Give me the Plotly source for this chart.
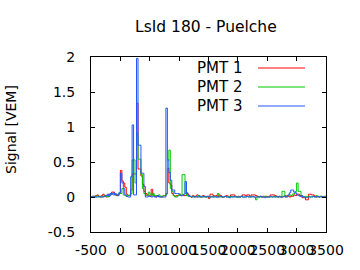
import plotly.graph_objects as go

title_text = "LsId 180 - Puelche"
y_label = "Signal [VEM]"
series_names = ["PMT 1", "PMT 2", "PMT 3"]
series_colors = ["#ff0000", "#00c800", "#2255ff"]

bin_start = -500
bin_width = 25

pmt1 = [
    0.00, 0.01, 0.00, 0.02, 0.03, 0.01, 0.00, 0.02, 0.04, 0.01,
    0.00, 0.02, 0.04, 0.03, 0.07, 0.07, 0.05, 0.02, 0.03, 0.05,
    0.38, 0.23, 0.20, 0.14, 0.04, 0.02, 0.02, 0.10, 0.33, 0.33,
    0.33, 1.34, 0.40, 0.40, 0.30, 0.18, 0.08, 0.05, 0.03, 0.02,
    0.01, 0.11, 0.03, 0.01, 0.00, 0.02, 0.01, 0.00, 0.01, 0.02,
    0.02, 0.05, 0.41, 0.20, 0.17, 0.05, 0.02, 0.01, 0.02, 0.02,
    0.04, 0.02, 0.03, 0.02, 0.02, 0.06, 0.03, 0.01, 0.00, 0.02,
    0.01, 0.00, 0.03, 0.02, 0.00, 0.01, 0.02, 0.01, 0.00, 0.01,
    -0.02, 0.04, 0.04, 0.02, 0.01, 0.02, 0.00, 0.03, 0.02, 0.00,
    0.00, 0.01, 0.02, 0.01, 0.00, 0.03, 0.03, 0.03, 0.01, 0.00,
    0.01, 0.00, 0.01, 0.03, 0.03, 0.02, 0.03, 0.03, 0.01, 0.03,
    0.03, 0.03, 0.02, 0.01, 0.00, 0.01, 0.00, 0.01, 0.00, 0.01,
    0.00, 0.01, 0.03, 0.03, 0.03, 0.02, 0.01, 0.00, 0.01, 0.00,
    0.00, 0.01, 0.02, 0.00, 0.01, 0.00, 0.01, 0.01, 0.03, 0.02,
    0.04, 0.04, 0.02, 0.00, -0.01, -0.01, -0.04, -0.04, 0.04, 0.04,
    0.03, 0.03, 0.01, 0.00, 0.01, 0.00, 0.01, 0.00, 0.00, 0.01,
]

pmt2 = [
    0.00, 0.01, 0.01, 0.00, 0.02, 0.00, 0.01, 0.00, 0.01, 0.02,
    0.01, 0.00, 0.02, 0.04, 0.05, 0.03, 0.05, 0.03, 0.02, 0.06,
    0.05, 0.12, 0.03, 0.02, 0.01, 0.02, 0.03, 0.05, 0.53, 0.53,
    0.20, 0.91, 0.54, 0.54, 0.32, 0.12, 0.05, 0.02, 0.02, 0.07,
    0.04, 0.02, 0.05, 0.02, 0.02, 0.01, 0.03, 0.01, 0.00, 0.02,
    0.02, 0.04, 0.53, 0.67, 0.12, 0.08, 0.02, 0.00, 0.00, 0.02,
    0.04, 0.02, 0.32, 0.32, 0.05, 0.02, 0.01, 0.01, 0.00, 0.01,
    0.00, 0.01, 0.00, 0.02, 0.00, 0.00, 0.01, 0.00, 0.00, 0.01,
    0.00, 0.00, 0.01, 0.00, 0.00, 0.00, 0.05, 0.01, 0.00, 0.00,
    0.00, 0.01, 0.00, 0.00, 0.00, 0.01, 0.00, 0.00, 0.01, 0.00,
    0.00, 0.00, 0.01, 0.00, 0.00, 0.00, 0.01, 0.00, 0.00, 0.01,
    0.00, 0.00, -0.04, 0.01, 0.00, 0.00, 0.00, 0.00, 0.01, 0.00,
    0.00, 0.00, 0.00, 0.00, 0.01, 0.00, 0.00, 0.00, 0.01, 0.00,
    0.08, 0.08, 0.00, 0.01, 0.02, 0.03, 0.02, 0.04, 0.05, 0.08,
    0.20, 0.08, 0.08, 0.02, 0.01, 0.00, 0.01, 0.00, 0.01, 0.00,
    0.00, 0.01, 0.00, 0.02, 0.00, 0.00, 0.01, 0.00, 0.00, 0.01,
]

pmt3 = [
    0.00, 0.00, 0.01, 0.00, 0.00, 0.01, 0.00, 0.00, 0.00, 0.01,
    0.02, 0.04, 0.01, 0.05, 0.04, 0.06, 0.03, 0.04, 0.02, 0.06,
    0.34, 0.20, 0.12, 0.03, 0.01, 0.00, 0.00, 0.29, 1.03, 0.03,
    0.03, 1.98, 0.74, 0.74, 0.34, 0.34, 0.15, 0.00, 0.00, 0.01,
    0.01, 0.00, 0.01, 0.00, 0.00, 0.02, 0.00, 0.00, 0.00, 0.00,
    0.00, 1.27, 0.53, 0.35, 0.24, 0.10, 0.10, 0.05, 0.05, 0.05,
    0.03, 0.02, 0.02, 0.04, 0.22, 0.05, 0.02, 0.01, 0.00, 0.00,
    0.00, 0.01, 0.00, 0.00, 0.01, 0.00, 0.00, 0.01, 0.00, 0.00,
    0.01, 0.00, 0.00, 0.00, 0.01, 0.00, 0.00, 0.00, 0.01, 0.00,
    0.00, 0.01, 0.00, 0.00, -0.01, 0.00, 0.00, 0.01, 0.00, 0.00,
    0.00, 0.00, 0.01, 0.00, 0.00, 0.00, 0.01, 0.00, 0.00, 0.00,
    0.01, 0.00, 0.00, 0.00, 0.00, 0.01, 0.00, 0.00, -0.01, 0.00,
    0.00, 0.00, 0.01, 0.00, 0.00, 0.00, 0.01, 0.00, 0.00, 0.00,
    0.00, 0.01, 0.00, 0.01, 0.03, 0.06, 0.10, 0.10, 0.07, 0.06,
    0.03, 0.02, 0.01, 0.02, 0.00, 0.00, -0.01, 0.00, 0.00, 0.00,
    0.00, 0.01, 0.00, 0.00, 0.01, 0.00, 0.00, 0.01, 0.00, 0.00,
]

x_ticks = [-500, 0, 500, 1000, 1500, 2000, 2500, 3000, 3500]
x_tick_labels = ["-500", "0", "500", "1000", "1500", "2000", "2500", "3000", "3500"]
y_ticks = [-0.5, 0, 0.5, 1, 1.5, 2]
y_tick_labels = ["-0.5", "0", "0.5", "1", "1.5", "2"]

FONT = "DejaVu Sans"
W, H = 360, 270
L, R, T, B = 91, 34, 57, 38
PW, PH = W - L - R, H - T - B


def px_x(px):
    return (px - L) / PW


def px_y(py):
    return (H - B - py) / PH


fig = go.Figure()
for name, color, vals in zip(series_names, series_colors, [pmt1, pmt2, pmt3]):
    xs = [bin_start + bin_width * i for i in range(len(vals) + 1)]
    ys = vals + [vals[-1]]
    fig.add_trace(go.Scatter(
        x=xs, y=ys, mode="lines", name=name,
        line=dict(color=color, width=1, shape="hv"),
        showlegend=False, hoverinfo="skip",
    ))

# gnuplot-style key: text right-justified, sample line to the right
for i, (name, color) in enumerate(zip(series_names, series_colors)):
    row_y = 68 + 19 * i
    fig.add_annotation(
        x=px_x(244), y=px_y(row_y), xref="paper", yref="paper", text=name,
        showarrow=False, xanchor="right", yanchor="middle",
        font=dict(family=FONT, size=15, color="black"),
    )
    fig.add_shape(type="line", xref="paper", yref="paper",
                  x0=px_x(258), x1=px_x(305), y0=px_y(row_y), y1=px_y(row_y),
                  line=dict(color=color, width=1))

axis_common = dict(
    showline=True, linecolor="black", linewidth=1, mirror="allticks",
    ticks="inside", ticklen=4, tickcolor="black", tickwidth=1,
    showgrid=False, zeroline=False,
    tickfont=dict(family=FONT, size=14, color="black"),
)

fig.update_layout(
    width=W, height=H,
    margin=dict(l=L, r=R, t=T, b=B, pad=0),
    paper_bgcolor="white", plot_bgcolor="white",
    xaxis=dict(range=[-500, 3500], tickvals=x_ticks, ticktext=x_tick_labels,
               tickangle=0, ticklabelstandoff=5, **axis_common),
    yaxis=dict(range=[-0.5, 2], tickvals=y_ticks, ticktext=y_tick_labels,
               ticklabelstandoff=12, **axis_common),
    font=dict(family=FONT, color="black"),
)

fig.add_annotation(
    x=px_x(206), y=px_y(27), xref="paper", yref="paper", text=title_text,
    showarrow=False, xanchor="center", yanchor="middle",
    font=dict(family=FONT, size=15.5, color="black"),
)
fig.add_annotation(
    x=px_x(11), y=px_y(130), xref="paper", yref="paper", text=y_label,
    showarrow=False, textangle=-90, xanchor="center", yanchor="middle",
    font=dict(family=FONT, size=14, color="black"),
)

fig.write_html("out.html")
